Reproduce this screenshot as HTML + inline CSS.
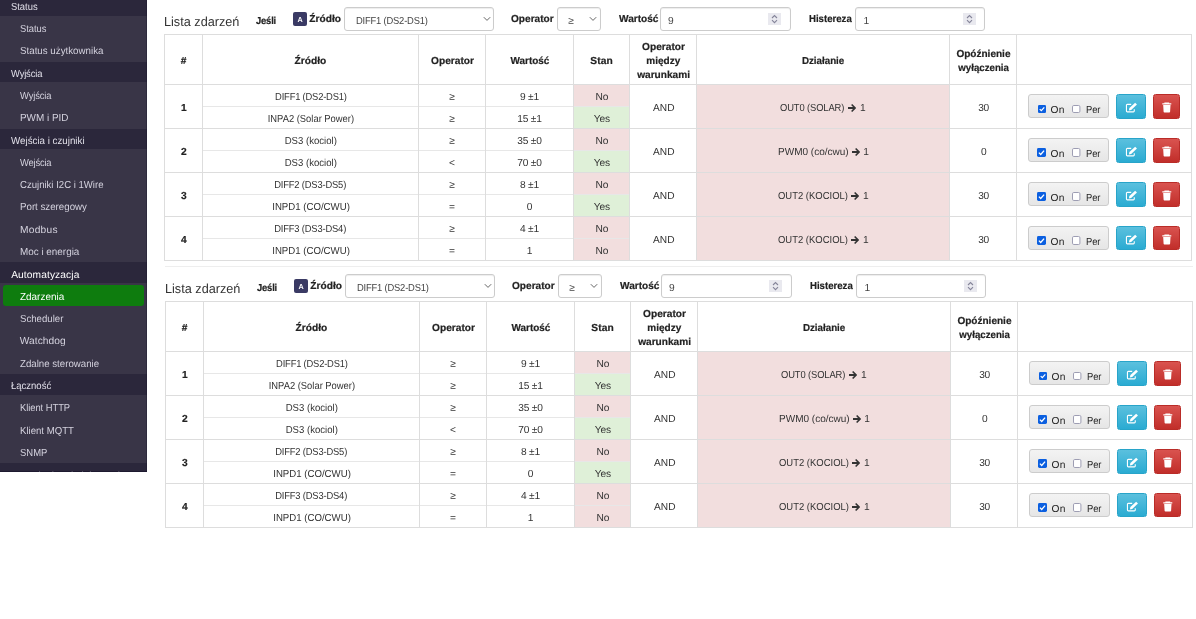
<!DOCTYPE html>
<html lang="pl"><head><meta charset="utf-8"><title>Zdarzenia</title>
<style>
html,body{margin:0;padding:0;background:#fff}
body{width:1196px;height:619px;position:relative;overflow:hidden;font-family:"Liberation Sans", sans-serif;text-rendering:geometricPrecision}
div,span,svg{position:absolute;display:block}
#sb{left:0;top:0;width:147px;height:472px;overflow:hidden}
span{line-height:14px;white-space:nowrap}
</style></head><body>
<div style="left:0px;top:0px;width:147px;height:472px;background:#393547"></div>
<div style="left:0px;top:0px;width:147px;height:16px;background:#2b273b"></div>
<div style="left:0px;top:62px;width:147px;height:20px;background:#2b273b"></div>
<div style="left:0px;top:129px;width:147px;height:20px;background:#2b273b"></div>
<div style="left:0px;top:262px;width:147px;height:21px;background:#2b273b"></div>
<div style="left:0px;top:374px;width:147px;height:21px;background:#2b273b"></div>
<div style="left:0px;top:463px;width:147px;height:9px;background:#2b273b"></div>
<div style="left:3px;top:285px;width:141px;height:21px;background:#0e7c0e;border-radius:3px"></div>
<div style="left:146px;top:0px;width:1px;height:472px;background:rgba(20,16,40,.3)"></div>
<div style="left:0px;top:471px;width:147px;height:1px;background:rgba(20,16,40,.6)"></div>
<div style="left:293px;top:12px;width:14px;height:14px;background:#3a3a64;border-radius:2px"></div>
<div style="left:344px;top:7px;width:150px;height:24px;box-sizing:border-box;background:#fff;border:1px solid #ccc;border-radius:3px;box-shadow:inset 0 1px 1px rgba(0,0,0,.075)"></div>
<svg style="left:482.6px;top:16px" width="8" height="6" viewBox="0 0 8 6"><path d="M0.8 1.2 L4 4.4 L7.2 1.2" fill="none" stroke="#666" stroke-width="1"/></svg>
<div style="left:557px;top:7px;width:44px;height:24px;box-sizing:border-box;background:#fff;border:1px solid #ccc;border-radius:3px;box-shadow:inset 0 1px 1px rgba(0,0,0,.075)"></div>
<svg style="left:589.2px;top:16px" width="8" height="6" viewBox="0 0 8 6"><path d="M0.8 1.2 L4 4.4 L7.2 1.2" fill="none" stroke="#666" stroke-width="1"/></svg>
<div style="left:660px;top:7px;width:131px;height:24px;box-sizing:border-box;background:#fff;border:1px solid #ccc;border-radius:3px;box-shadow:inset 0 1px 1px rgba(0,0,0,.075)"></div>
<svg style="left:768px;top:13px" width="13" height="12" viewBox="0 0 13 12"><rect width="13" height="12" fill="#e9e9ef"/><path d="M4 5 L6.5 2.5 L9 5 M4 7.2 L6.5 9.7 L9 7.2" fill="none" stroke="#85859a" stroke-width="1.1"/></svg>
<div style="left:855px;top:7px;width:130px;height:24px;box-sizing:border-box;background:#fff;border:1px solid #ccc;border-radius:3px;box-shadow:inset 0 1px 1px rgba(0,0,0,.075)"></div>
<svg style="left:963px;top:13px" width="13" height="12" viewBox="0 0 13 12"><rect width="13" height="12" fill="#e9e9ef"/><path d="M4 5 L6.5 2.5 L9 5 M4 7.2 L6.5 9.7 L9 7.2" fill="none" stroke="#85859a" stroke-width="1.1"/></svg>
<div style="left:573px;top:84px;width:56px;height:22px;background:#f2dede"></div>
<div style="left:573px;top:106px;width:56px;height:22px;background:#dff0d8"></div>
<div style="left:696px;top:84px;width:253px;height:44px;background:#f2dede"></div>
<div style="left:573px;top:128px;width:56px;height:22px;background:#f2dede"></div>
<div style="left:573px;top:150px;width:56px;height:22px;background:#dff0d8"></div>
<div style="left:696px;top:128px;width:253px;height:44px;background:#f2dede"></div>
<div style="left:573px;top:172px;width:56px;height:22px;background:#f2dede"></div>
<div style="left:573px;top:194px;width:56px;height:22px;background:#dff0d8"></div>
<div style="left:696px;top:172px;width:253px;height:44px;background:#f2dede"></div>
<div style="left:573px;top:216px;width:56px;height:22px;background:#f2dede"></div>
<div style="left:573px;top:238px;width:56px;height:22px;background:#f2dede"></div>
<div style="left:696px;top:216px;width:253px;height:44px;background:#f2dede"></div>
<div style="left:164px;top:34px;width:1028px;height:1px;background:#ddd"></div>
<div style="left:164px;top:84px;width:1028px;height:1px;background:#ddd"></div>
<div style="left:203px;top:106px;width:426px;height:1px;background:#e7e7e7"></div>
<div style="left:164px;top:128px;width:1028px;height:1px;background:#ddd"></div>
<div style="left:203px;top:150px;width:426px;height:1px;background:#e7e7e7"></div>
<div style="left:164px;top:172px;width:1028px;height:1px;background:#ddd"></div>
<div style="left:203px;top:194px;width:426px;height:1px;background:#e7e7e7"></div>
<div style="left:164px;top:216px;width:1028px;height:1px;background:#ddd"></div>
<div style="left:203px;top:238px;width:426px;height:1px;background:#e7e7e7"></div>
<div style="left:164px;top:260px;width:1028px;height:1px;background:#ddd"></div>
<div style="left:164px;top:34px;width:1px;height:227px;background:#ddd"></div>
<div style="left:202px;top:34px;width:1px;height:227px;background:#ddd"></div>
<div style="left:418px;top:34px;width:1px;height:227px;background:#ddd"></div>
<div style="left:485px;top:34px;width:1px;height:227px;background:#ddd"></div>
<div style="left:573px;top:34px;width:1px;height:227px;background:#ddd"></div>
<div style="left:629px;top:34px;width:1px;height:227px;background:#ddd"></div>
<div style="left:696px;top:34px;width:1px;height:227px;background:#ddd"></div>
<div style="left:949px;top:34px;width:1px;height:227px;background:#ddd"></div>
<div style="left:1016px;top:34px;width:1px;height:227px;background:#ddd"></div>
<div style="left:1191px;top:34px;width:1px;height:227px;background:#ddd"></div>
<svg style="left:848.0px;top:103.5px" width="8.4" height="8" viewBox="0 0 8.4 8"><path d="M0 3.1 H5 L3.1 1.1 L4.2 0 L8.4 4 L4.2 8 L3.1 6.9 L5 4.9 H0 Z" fill="#333"/></svg>
<div style="left:1028px;top:94px;width:81px;height:24px;box-sizing:border-box;border:1px solid #ccc;border-radius:3px;background:linear-gradient(#f3f3f3,#e6e6e6)"></div>
<svg style="left:1037.7px;top:105px" width="8" height="8" viewBox="0 0 8 8"><rect width="8" height="8" rx="1.3" fill="#0b5fe0"/><path d="M1.7 4.1 L3.3 5.7 L6.3 2.3" fill="none" stroke="#fff" stroke-width="1.2"/></svg>
<svg style="left:1072.2px;top:105px" width="8.4" height="8" viewBox="0 0 8.4 8"><rect x="0.5" y="0.5" width="7.4" height="7" rx="1.3" fill="#fff" stroke="#9d9db3" stroke-width="1"/></svg>
<div style="left:1116px;top:94px;width:30px;height:25px;box-sizing:border-box;border:1px solid #28a4c9;border-radius:2.5px;background:linear-gradient(#5bc0de,#2aabd2)"></div>
<svg style="left:1125px;top:100.1px" width="13" height="13" viewBox="0 0 13 13"><path d="M9.25 9.3 V11 a0.85 0.85 0 0 1 -0.85 0.85 H2.3 a0.85 0.85 0 0 1 -0.85 -0.85 V5.2 a0.85 0.85 0 0 1 0.85 -0.85 H6.2" fill="none" stroke="#fff" stroke-width="1.1"/><path d="M3.9 10.4 L4.4 8.1 L10.15 2.65 L11.95 4.45 L6.2 9.9 Z" fill="#fff"/></svg>
<div style="left:1153px;top:94px;width:27px;height:25px;box-sizing:border-box;border:1px solid #b92c28;border-radius:2.5px;background:linear-gradient(#d9534f,#c12e2a)"></div>
<svg style="left:1161.5px;top:100px" width="10" height="13" viewBox="0 0 10 13"><path d="M0.3 3.3 H9.3 V4.6 H0.3 Z M2.4 2.5 H7.2 V3.4 H2.4 Z M1.2 5.1 H8.5 L8.1 11.7 a0.8 0.8 0 0 1 -0.8 0.7 H2.4 a0.8 0.8 0 0 1 -0.8 -0.7 Z" fill="#fff"/></svg>
<svg style="left:851.9px;top:147.5px" width="8.4" height="8" viewBox="0 0 8.4 8"><path d="M0 3.1 H5 L3.1 1.1 L4.2 0 L8.4 4 L4.2 8 L3.1 6.9 L5 4.9 H0 Z" fill="#333"/></svg>
<div style="left:1028px;top:138px;width:81px;height:24px;box-sizing:border-box;border:1px solid #ccc;border-radius:3px;background:linear-gradient(#f3f3f3,#e6e6e6)"></div>
<svg style="left:1037px;top:148px" width="9" height="9" viewBox="0 0 8 8"><rect width="8" height="8" rx="1.3" fill="#0b5fe0"/><path d="M1.7 4.1 L3.3 5.7 L6.3 2.3" fill="none" stroke="#fff" stroke-width="1.2"/></svg>
<svg style="left:1072.2px;top:148px" width="8.4" height="9" viewBox="0 0 8.4 9"><rect x="0.5" y="0.5" width="7.4" height="8" rx="1.3" fill="#fff" stroke="#9d9db3" stroke-width="1"/></svg>
<div style="left:1116px;top:138px;width:30px;height:25px;box-sizing:border-box;border:1px solid #28a4c9;border-radius:2.5px;background:linear-gradient(#5bc0de,#2aabd2)"></div>
<svg style="left:1125px;top:144.1px" width="13" height="13" viewBox="0 0 13 13"><path d="M9.25 9.3 V11 a0.85 0.85 0 0 1 -0.85 0.85 H2.3 a0.85 0.85 0 0 1 -0.85 -0.85 V5.2 a0.85 0.85 0 0 1 0.85 -0.85 H6.2" fill="none" stroke="#fff" stroke-width="1.1"/><path d="M3.9 10.4 L4.4 8.1 L10.15 2.65 L11.95 4.45 L6.2 9.9 Z" fill="#fff"/></svg>
<div style="left:1153px;top:138px;width:27px;height:25px;box-sizing:border-box;border:1px solid #b92c28;border-radius:2.5px;background:linear-gradient(#d9534f,#c12e2a)"></div>
<svg style="left:1161.5px;top:144px" width="10" height="13" viewBox="0 0 10 13"><path d="M0.3 3.3 H9.3 V4.6 H0.3 Z M2.4 2.5 H7.2 V3.4 H2.4 Z M1.2 5.1 H8.5 L8.1 11.7 a0.8 0.8 0 0 1 -0.8 0.7 H2.4 a0.8 0.8 0 0 1 -0.8 -0.7 Z" fill="#fff"/></svg>
<svg style="left:851.1px;top:191.5px" width="8.4" height="8" viewBox="0 0 8.4 8"><path d="M0 3.1 H5 L3.1 1.1 L4.2 0 L8.4 4 L4.2 8 L3.1 6.9 L5 4.9 H0 Z" fill="#333"/></svg>
<div style="left:1028px;top:182px;width:81px;height:24px;box-sizing:border-box;border:1px solid #ccc;border-radius:3px;background:linear-gradient(#f3f3f3,#e6e6e6)"></div>
<svg style="left:1037px;top:192px" width="9" height="9" viewBox="0 0 8 8"><rect width="8" height="8" rx="1.3" fill="#0b5fe0"/><path d="M1.7 4.1 L3.3 5.7 L6.3 2.3" fill="none" stroke="#fff" stroke-width="1.2"/></svg>
<svg style="left:1072.2px;top:192px" width="8.4" height="9" viewBox="0 0 8.4 9"><rect x="0.5" y="0.5" width="7.4" height="8" rx="1.3" fill="#fff" stroke="#9d9db3" stroke-width="1"/></svg>
<div style="left:1116px;top:182px;width:30px;height:25px;box-sizing:border-box;border:1px solid #28a4c9;border-radius:2.5px;background:linear-gradient(#5bc0de,#2aabd2)"></div>
<svg style="left:1125px;top:188.1px" width="13" height="13" viewBox="0 0 13 13"><path d="M9.25 9.3 V11 a0.85 0.85 0 0 1 -0.85 0.85 H2.3 a0.85 0.85 0 0 1 -0.85 -0.85 V5.2 a0.85 0.85 0 0 1 0.85 -0.85 H6.2" fill="none" stroke="#fff" stroke-width="1.1"/><path d="M3.9 10.4 L4.4 8.1 L10.15 2.65 L11.95 4.45 L6.2 9.9 Z" fill="#fff"/></svg>
<div style="left:1153px;top:182px;width:27px;height:25px;box-sizing:border-box;border:1px solid #b92c28;border-radius:2.5px;background:linear-gradient(#d9534f,#c12e2a)"></div>
<svg style="left:1161.5px;top:188px" width="10" height="13" viewBox="0 0 10 13"><path d="M0.3 3.3 H9.3 V4.6 H0.3 Z M2.4 2.5 H7.2 V3.4 H2.4 Z M1.2 5.1 H8.5 L8.1 11.7 a0.8 0.8 0 0 1 -0.8 0.7 H2.4 a0.8 0.8 0 0 1 -0.8 -0.7 Z" fill="#fff"/></svg>
<svg style="left:851.1px;top:235.5px" width="8.4" height="8" viewBox="0 0 8.4 8"><path d="M0 3.1 H5 L3.1 1.1 L4.2 0 L8.4 4 L4.2 8 L3.1 6.9 L5 4.9 H0 Z" fill="#333"/></svg>
<div style="left:1028px;top:226px;width:81px;height:24px;box-sizing:border-box;border:1px solid #ccc;border-radius:3px;background:linear-gradient(#f3f3f3,#e6e6e6)"></div>
<svg style="left:1037px;top:236px" width="9" height="9" viewBox="0 0 8 8"><rect width="8" height="8" rx="1.3" fill="#0b5fe0"/><path d="M1.7 4.1 L3.3 5.7 L6.3 2.3" fill="none" stroke="#fff" stroke-width="1.2"/></svg>
<svg style="left:1072.2px;top:236px" width="8.4" height="9" viewBox="0 0 8.4 9"><rect x="0.5" y="0.5" width="7.4" height="8" rx="1.3" fill="#fff" stroke="#9d9db3" stroke-width="1"/></svg>
<div style="left:1116px;top:226px;width:30px;height:24px;box-sizing:border-box;border:1px solid #28a4c9;border-radius:2.5px;background:linear-gradient(#5bc0de,#2aabd2)"></div>
<svg style="left:1125px;top:232.1px" width="13" height="13" viewBox="0 0 13 13"><path d="M9.25 9.3 V11 a0.85 0.85 0 0 1 -0.85 0.85 H2.3 a0.85 0.85 0 0 1 -0.85 -0.85 V5.2 a0.85 0.85 0 0 1 0.85 -0.85 H6.2" fill="none" stroke="#fff" stroke-width="1.1"/><path d="M3.9 10.4 L4.4 8.1 L10.15 2.65 L11.95 4.45 L6.2 9.9 Z" fill="#fff"/></svg>
<div style="left:1153px;top:226px;width:27px;height:24px;box-sizing:border-box;border:1px solid #b92c28;border-radius:2.5px;background:linear-gradient(#d9534f,#c12e2a)"></div>
<svg style="left:1161.5px;top:232px" width="10" height="13" viewBox="0 0 10 13"><path d="M0.3 3.3 H9.3 V4.6 H0.3 Z M2.4 2.5 H7.2 V3.4 H2.4 Z M1.2 5.1 H8.5 L8.1 11.7 a0.8 0.8 0 0 1 -0.8 0.7 H2.4 a0.8 0.8 0 0 1 -0.8 -0.7 Z" fill="#fff"/></svg>
<div style="left:165px;top:266px;width:1028px;height:1px;background:#eee"></div>
<div style="left:294px;top:279px;width:14px;height:14px;background:#3a3a64;border-radius:2px"></div>
<div style="left:345px;top:274px;width:150px;height:24px;box-sizing:border-box;background:#fff;border:1px solid #ccc;border-radius:3px;box-shadow:inset 0 1px 1px rgba(0,0,0,.075)"></div>
<svg style="left:483.6px;top:283px" width="8" height="6" viewBox="0 0 8 6"><path d="M0.8 1.2 L4 4.4 L7.2 1.2" fill="none" stroke="#666" stroke-width="1"/></svg>
<div style="left:558px;top:274px;width:44px;height:24px;box-sizing:border-box;background:#fff;border:1px solid #ccc;border-radius:3px;box-shadow:inset 0 1px 1px rgba(0,0,0,.075)"></div>
<svg style="left:590.2px;top:283px" width="8" height="6" viewBox="0 0 8 6"><path d="M0.8 1.2 L4 4.4 L7.2 1.2" fill="none" stroke="#666" stroke-width="1"/></svg>
<div style="left:661px;top:274px;width:131px;height:24px;box-sizing:border-box;background:#fff;border:1px solid #ccc;border-radius:3px;box-shadow:inset 0 1px 1px rgba(0,0,0,.075)"></div>
<svg style="left:769px;top:280px" width="13" height="12" viewBox="0 0 13 12"><rect width="13" height="12" fill="#e9e9ef"/><path d="M4 5 L6.5 2.5 L9 5 M4 7.2 L6.5 9.7 L9 7.2" fill="none" stroke="#85859a" stroke-width="1.1"/></svg>
<div style="left:856px;top:274px;width:130px;height:24px;box-sizing:border-box;background:#fff;border:1px solid #ccc;border-radius:3px;box-shadow:inset 0 1px 1px rgba(0,0,0,.075)"></div>
<svg style="left:964px;top:280px" width="13" height="12" viewBox="0 0 13 12"><rect width="13" height="12" fill="#e9e9ef"/><path d="M4 5 L6.5 2.5 L9 5 M4 7.2 L6.5 9.7 L9 7.2" fill="none" stroke="#85859a" stroke-width="1.1"/></svg>
<div style="left:574px;top:351px;width:56px;height:22px;background:#f2dede"></div>
<div style="left:574px;top:373px;width:56px;height:22px;background:#dff0d8"></div>
<div style="left:697px;top:351px;width:253px;height:44px;background:#f2dede"></div>
<div style="left:574px;top:395px;width:56px;height:22px;background:#f2dede"></div>
<div style="left:574px;top:417px;width:56px;height:22px;background:#dff0d8"></div>
<div style="left:697px;top:395px;width:253px;height:44px;background:#f2dede"></div>
<div style="left:574px;top:439px;width:56px;height:22px;background:#f2dede"></div>
<div style="left:574px;top:461px;width:56px;height:22px;background:#dff0d8"></div>
<div style="left:697px;top:439px;width:253px;height:44px;background:#f2dede"></div>
<div style="left:574px;top:483px;width:56px;height:22px;background:#f2dede"></div>
<div style="left:574px;top:505px;width:56px;height:22px;background:#f2dede"></div>
<div style="left:697px;top:483px;width:253px;height:44px;background:#f2dede"></div>
<div style="left:165px;top:301px;width:1028px;height:1px;background:#ddd"></div>
<div style="left:165px;top:351px;width:1028px;height:1px;background:#ddd"></div>
<div style="left:204px;top:373px;width:426px;height:1px;background:#e7e7e7"></div>
<div style="left:165px;top:395px;width:1028px;height:1px;background:#ddd"></div>
<div style="left:204px;top:417px;width:426px;height:1px;background:#e7e7e7"></div>
<div style="left:165px;top:439px;width:1028px;height:1px;background:#ddd"></div>
<div style="left:204px;top:461px;width:426px;height:1px;background:#e7e7e7"></div>
<div style="left:165px;top:483px;width:1028px;height:1px;background:#ddd"></div>
<div style="left:204px;top:505px;width:426px;height:1px;background:#e7e7e7"></div>
<div style="left:165px;top:527px;width:1028px;height:1px;background:#ddd"></div>
<div style="left:165px;top:301px;width:1px;height:227px;background:#ddd"></div>
<div style="left:203px;top:301px;width:1px;height:227px;background:#ddd"></div>
<div style="left:419px;top:301px;width:1px;height:227px;background:#ddd"></div>
<div style="left:486px;top:301px;width:1px;height:227px;background:#ddd"></div>
<div style="left:574px;top:301px;width:1px;height:227px;background:#ddd"></div>
<div style="left:630px;top:301px;width:1px;height:227px;background:#ddd"></div>
<div style="left:697px;top:301px;width:1px;height:227px;background:#ddd"></div>
<div style="left:950px;top:301px;width:1px;height:227px;background:#ddd"></div>
<div style="left:1017px;top:301px;width:1px;height:227px;background:#ddd"></div>
<div style="left:1192px;top:301px;width:1px;height:227px;background:#ddd"></div>
<svg style="left:849.0px;top:370.5px" width="8.4" height="8" viewBox="0 0 8.4 8"><path d="M0 3.1 H5 L3.1 1.1 L4.2 0 L8.4 4 L4.2 8 L3.1 6.9 L5 4.9 H0 Z" fill="#333"/></svg>
<div style="left:1029px;top:361px;width:81px;height:24px;box-sizing:border-box;border:1px solid #ccc;border-radius:3px;background:linear-gradient(#f3f3f3,#e6e6e6)"></div>
<svg style="left:1038.7px;top:372px" width="8" height="8" viewBox="0 0 8 8"><rect width="8" height="8" rx="1.3" fill="#0b5fe0"/><path d="M1.7 4.1 L3.3 5.7 L6.3 2.3" fill="none" stroke="#fff" stroke-width="1.2"/></svg>
<svg style="left:1073.2px;top:372px" width="8.4" height="8" viewBox="0 0 8.4 8"><rect x="0.5" y="0.5" width="7.4" height="7" rx="1.3" fill="#fff" stroke="#9d9db3" stroke-width="1"/></svg>
<div style="left:1117px;top:361px;width:30px;height:25px;box-sizing:border-box;border:1px solid #28a4c9;border-radius:2.5px;background:linear-gradient(#5bc0de,#2aabd2)"></div>
<svg style="left:1126px;top:367.1px" width="13" height="13" viewBox="0 0 13 13"><path d="M9.25 9.3 V11 a0.85 0.85 0 0 1 -0.85 0.85 H2.3 a0.85 0.85 0 0 1 -0.85 -0.85 V5.2 a0.85 0.85 0 0 1 0.85 -0.85 H6.2" fill="none" stroke="#fff" stroke-width="1.1"/><path d="M3.9 10.4 L4.4 8.1 L10.15 2.65 L11.95 4.45 L6.2 9.9 Z" fill="#fff"/></svg>
<div style="left:1154px;top:361px;width:27px;height:25px;box-sizing:border-box;border:1px solid #b92c28;border-radius:2.5px;background:linear-gradient(#d9534f,#c12e2a)"></div>
<svg style="left:1162.5px;top:367px" width="10" height="13" viewBox="0 0 10 13"><path d="M0.3 3.3 H9.3 V4.6 H0.3 Z M2.4 2.5 H7.2 V3.4 H2.4 Z M1.2 5.1 H8.5 L8.1 11.7 a0.8 0.8 0 0 1 -0.8 0.7 H2.4 a0.8 0.8 0 0 1 -0.8 -0.7 Z" fill="#fff"/></svg>
<svg style="left:852.9px;top:414.5px" width="8.4" height="8" viewBox="0 0 8.4 8"><path d="M0 3.1 H5 L3.1 1.1 L4.2 0 L8.4 4 L4.2 8 L3.1 6.9 L5 4.9 H0 Z" fill="#333"/></svg>
<div style="left:1029px;top:405px;width:81px;height:24px;box-sizing:border-box;border:1px solid #ccc;border-radius:3px;background:linear-gradient(#f3f3f3,#e6e6e6)"></div>
<svg style="left:1038px;top:415px" width="9" height="9" viewBox="0 0 8 8"><rect width="8" height="8" rx="1.3" fill="#0b5fe0"/><path d="M1.7 4.1 L3.3 5.7 L6.3 2.3" fill="none" stroke="#fff" stroke-width="1.2"/></svg>
<svg style="left:1073.2px;top:415px" width="8.4" height="9" viewBox="0 0 8.4 9"><rect x="0.5" y="0.5" width="7.4" height="8" rx="1.3" fill="#fff" stroke="#9d9db3" stroke-width="1"/></svg>
<div style="left:1117px;top:405px;width:30px;height:25px;box-sizing:border-box;border:1px solid #28a4c9;border-radius:2.5px;background:linear-gradient(#5bc0de,#2aabd2)"></div>
<svg style="left:1126px;top:411.1px" width="13" height="13" viewBox="0 0 13 13"><path d="M9.25 9.3 V11 a0.85 0.85 0 0 1 -0.85 0.85 H2.3 a0.85 0.85 0 0 1 -0.85 -0.85 V5.2 a0.85 0.85 0 0 1 0.85 -0.85 H6.2" fill="none" stroke="#fff" stroke-width="1.1"/><path d="M3.9 10.4 L4.4 8.1 L10.15 2.65 L11.95 4.45 L6.2 9.9 Z" fill="#fff"/></svg>
<div style="left:1154px;top:405px;width:27px;height:25px;box-sizing:border-box;border:1px solid #b92c28;border-radius:2.5px;background:linear-gradient(#d9534f,#c12e2a)"></div>
<svg style="left:1162.5px;top:411px" width="10" height="13" viewBox="0 0 10 13"><path d="M0.3 3.3 H9.3 V4.6 H0.3 Z M2.4 2.5 H7.2 V3.4 H2.4 Z M1.2 5.1 H8.5 L8.1 11.7 a0.8 0.8 0 0 1 -0.8 0.7 H2.4 a0.8 0.8 0 0 1 -0.8 -0.7 Z" fill="#fff"/></svg>
<svg style="left:852.1px;top:458.5px" width="8.4" height="8" viewBox="0 0 8.4 8"><path d="M0 3.1 H5 L3.1 1.1 L4.2 0 L8.4 4 L4.2 8 L3.1 6.9 L5 4.9 H0 Z" fill="#333"/></svg>
<div style="left:1029px;top:449px;width:81px;height:24px;box-sizing:border-box;border:1px solid #ccc;border-radius:3px;background:linear-gradient(#f3f3f3,#e6e6e6)"></div>
<svg style="left:1038px;top:459px" width="9" height="9" viewBox="0 0 8 8"><rect width="8" height="8" rx="1.3" fill="#0b5fe0"/><path d="M1.7 4.1 L3.3 5.7 L6.3 2.3" fill="none" stroke="#fff" stroke-width="1.2"/></svg>
<svg style="left:1073.2px;top:459px" width="8.4" height="9" viewBox="0 0 8.4 9"><rect x="0.5" y="0.5" width="7.4" height="8" rx="1.3" fill="#fff" stroke="#9d9db3" stroke-width="1"/></svg>
<div style="left:1117px;top:449px;width:30px;height:25px;box-sizing:border-box;border:1px solid #28a4c9;border-radius:2.5px;background:linear-gradient(#5bc0de,#2aabd2)"></div>
<svg style="left:1126px;top:455.1px" width="13" height="13" viewBox="0 0 13 13"><path d="M9.25 9.3 V11 a0.85 0.85 0 0 1 -0.85 0.85 H2.3 a0.85 0.85 0 0 1 -0.85 -0.85 V5.2 a0.85 0.85 0 0 1 0.85 -0.85 H6.2" fill="none" stroke="#fff" stroke-width="1.1"/><path d="M3.9 10.4 L4.4 8.1 L10.15 2.65 L11.95 4.45 L6.2 9.9 Z" fill="#fff"/></svg>
<div style="left:1154px;top:449px;width:27px;height:25px;box-sizing:border-box;border:1px solid #b92c28;border-radius:2.5px;background:linear-gradient(#d9534f,#c12e2a)"></div>
<svg style="left:1162.5px;top:455px" width="10" height="13" viewBox="0 0 10 13"><path d="M0.3 3.3 H9.3 V4.6 H0.3 Z M2.4 2.5 H7.2 V3.4 H2.4 Z M1.2 5.1 H8.5 L8.1 11.7 a0.8 0.8 0 0 1 -0.8 0.7 H2.4 a0.8 0.8 0 0 1 -0.8 -0.7 Z" fill="#fff"/></svg>
<svg style="left:852.1px;top:502.5px" width="8.4" height="8" viewBox="0 0 8.4 8"><path d="M0 3.1 H5 L3.1 1.1 L4.2 0 L8.4 4 L4.2 8 L3.1 6.9 L5 4.9 H0 Z" fill="#333"/></svg>
<div style="left:1029px;top:493px;width:81px;height:24px;box-sizing:border-box;border:1px solid #ccc;border-radius:3px;background:linear-gradient(#f3f3f3,#e6e6e6)"></div>
<svg style="left:1038px;top:503px" width="9" height="9" viewBox="0 0 8 8"><rect width="8" height="8" rx="1.3" fill="#0b5fe0"/><path d="M1.7 4.1 L3.3 5.7 L6.3 2.3" fill="none" stroke="#fff" stroke-width="1.2"/></svg>
<svg style="left:1073.2px;top:503px" width="8.4" height="9" viewBox="0 0 8.4 9"><rect x="0.5" y="0.5" width="7.4" height="8" rx="1.3" fill="#fff" stroke="#9d9db3" stroke-width="1"/></svg>
<div style="left:1117px;top:493px;width:30px;height:24px;box-sizing:border-box;border:1px solid #28a4c9;border-radius:2.5px;background:linear-gradient(#5bc0de,#2aabd2)"></div>
<svg style="left:1126px;top:499.1px" width="13" height="13" viewBox="0 0 13 13"><path d="M9.25 9.3 V11 a0.85 0.85 0 0 1 -0.85 0.85 H2.3 a0.85 0.85 0 0 1 -0.85 -0.85 V5.2 a0.85 0.85 0 0 1 0.85 -0.85 H6.2" fill="none" stroke="#fff" stroke-width="1.1"/><path d="M3.9 10.4 L4.4 8.1 L10.15 2.65 L11.95 4.45 L6.2 9.9 Z" fill="#fff"/></svg>
<div style="left:1154px;top:493px;width:27px;height:24px;box-sizing:border-box;border:1px solid #b92c28;border-radius:2.5px;background:linear-gradient(#d9534f,#c12e2a)"></div>
<svg style="left:1162.5px;top:499px" width="10" height="13" viewBox="0 0 10 13"><path d="M0.3 3.3 H9.3 V4.6 H0.3 Z M2.4 2.5 H7.2 V3.4 H2.4 Z M1.2 5.1 H8.5 L8.1 11.7 a0.8 0.8 0 0 1 -0.8 0.7 H2.4 a0.8 0.8 0 0 1 -0.8 -0.7 Z" fill="#fff"/></svg>
<div id="sb">
<span style="font-size:10.2px;color:#e2e0ea;left:11.0px;top:1px;transform:scaleX(0.920);transform-origin:0 0;">Status</span>
<span style="font-size:10.2px;color:#d4d2de;letter-spacing:-0.03px;left:20.1px;top:23px;transform:scaleX(0.920);transform-origin:0 0;">Status</span>
<span style="font-size:10.2px;color:#d4d2de;left:20.1px;top:45px;transform:scaleX(0.957);transform-origin:0 0;">Status użytkownika</span>
<span style="font-size:10.2px;color:#e2e0ea;letter-spacing:-0.15px;left:11.2px;top:68px;transform:scaleX(0.920);transform-origin:0 0;">Wyjścia</span>
<span style="font-size:10.2px;color:#d4d2de;letter-spacing:-0.13px;left:20.2px;top:90px;transform:scaleX(0.920);transform-origin:0 0;">Wyjścia</span>
<span style="font-size:10.2px;color:#d4d2de;left:20.1px;top:112px;transform:scaleX(0.974);transform-origin:0 0;">PWM i PID</span>
<span style="font-size:10.2px;color:#e2e0ea;left:11.2px;top:135px;transform:scaleX(0.958);transform-origin:0 0;">Wejścia i czujniki</span>
<span style="font-size:10.2px;color:#d4d2de;letter-spacing:-0.20px;left:20.2px;top:157px;transform:scaleX(0.920);transform-origin:0 0;">Wejścia</span>
<span style="font-size:10.2px;color:#d4d2de;left:19.7px;top:179px;transform:scaleX(0.939);transform-origin:0 0;">Czujniki I2C i 1Wire</span>
<span style="font-size:10.2px;color:#d4d2de;left:20.1px;top:201px;transform:scaleX(0.953);transform-origin:0 0;">Port szeregowy</span>
<span style="font-size:10.2px;color:#d4d2de;letter-spacing:0.23px;left:20.1px;top:224px;">Modbus</span>
<span style="font-size:10.2px;color:#d4d2de;left:20.1px;top:246px;transform:scaleX(0.970);transform-origin:0 0;">Moc i energia</span>
<span style="font-size:10.2px;color:#ffffff;letter-spacing:0.11px;left:11.2px;top:269px;">Automatyzacja</span>
<span style="font-size:10.2px;color:#ffffff;left:20.2px;top:291px;transform:scaleX(0.975);transform-origin:0 0;">Zdarzenia</span>
<span style="font-size:10.2px;color:#d4d2de;left:20.0px;top:313px;transform:scaleX(0.945);transform-origin:0 0;">Scheduler</span>
<span style="font-size:10.2px;color:#d4d2de;letter-spacing:0.06px;left:19.8px;top:335px;">Watchdog</span>
<span style="font-size:10.2px;color:#d4d2de;left:20.2px;top:358px;transform:scaleX(0.950);transform-origin:0 0;">Zdalne sterowanie</span>
<span style="font-size:10.2px;color:#e2e0ea;left:11.2px;top:380px;transform:scaleX(0.933);transform-origin:0 0;">Łączność</span>
<span style="font-size:10.2px;color:#d4d2de;letter-spacing:-0.05px;left:20.1px;top:402px;transform:scaleX(0.920);transform-origin:0 0;">Klient HTTP</span>
<span style="font-size:10.2px;color:#d4d2de;left:20.1px;top:425px;transform:scaleX(0.943);transform-origin:0 0;">Klient MQTT</span>
<span style="font-size:10.2px;color:#d4d2de;left:20.1px;top:447px;transform:scaleX(0.928);transform-origin:0 0;">SNMP</span>
<span style="font-size:10.2px;color:#e2e0ea;left:11.4px;top:470px;transform:scaleX(0.972);transform-origin:0 0;">Ustawienia administracyjne</span>
</div>
<span style="font-size:13px;color:#333;left:164.0px;top:15px;transform:scaleX(0.975);transform-origin:0 0;">Lista zdarzeń</span>
<span style="font-size:10.2px;font-weight:700;color:#222;letter-spacing:-0.17px;-webkit-text-stroke:0.2px;left:256.2px;top:15px;transform:scaleX(0.920);transform-origin:0 0;">Jeśli</span>
<span style="font-size:7.2px;font-weight:700;color:#fff;left:297.4px;top:13px;">A</span>
<span style="font-size:10.2px;font-weight:700;color:#222;letter-spacing:0.03px;-webkit-text-stroke:0.2px;left:309.2px;top:13px;">Źródło</span>
<span style="font-size:10.2px;color:#444;letter-spacing:-0.20px;left:356.1px;top:15px;transform:scaleX(0.920);transform-origin:0 0;">DIFF1 (DS2-DS1)</span>
<span style="font-size:10.2px;font-weight:700;color:#222;-webkit-text-stroke:0.2px;left:511.2px;top:13px;transform:scaleX(0.991);transform-origin:0 0;">Operator</span>
<span style="font-size:10.2px;color:#444;left:568.2px;top:15px;">≥</span>
<span style="font-size:10.2px;font-weight:700;color:#222;-webkit-text-stroke:0.2px;left:619.4px;top:13px;transform:scaleX(0.991);transform-origin:0 0;">Wartość</span>
<span style="font-size:10.2px;color:#444;left:668.0px;top:15px;">9</span>
<span style="font-size:10.2px;font-weight:700;color:#222;-webkit-text-stroke:0.2px;left:809.3px;top:13px;transform:scaleX(0.944);transform-origin:0 0;">Histereza</span>
<span style="font-size:10.2px;color:#444;left:863.4px;top:15px;">1</span>
<span style="font-size:10.2px;font-weight:700;color:#222;-webkit-text-stroke:0.2px;left:180.7px;top:55px;">#</span>
<span style="font-size:10.2px;font-weight:700;color:#222;letter-spacing:0.01px;-webkit-text-stroke:0.2px;left:294.6px;top:55px;">Źródło</span>
<span style="font-size:10.2px;font-weight:700;color:#222;-webkit-text-stroke:0.2px;left:430.5px;top:55px;transform:scaleX(0.996);">Operator</span>
<span style="font-size:10.2px;font-weight:700;color:#222;-webkit-text-stroke:0.2px;left:509.6px;top:55px;transform:scaleX(0.978);">Wartość</span>
<span style="font-size:10.2px;font-weight:700;color:#222;letter-spacing:0.15px;-webkit-text-stroke:0.2px;left:590.2px;top:55px;">Stan</span>
<span style="font-size:10.2px;font-weight:700;color:#222;-webkit-text-stroke:0.2px;left:641.5px;top:41px;transform:scaleX(0.996);">Operator</span>
<span style="font-size:10.2px;font-weight:700;color:#222;-webkit-text-stroke:0.2px;left:645.7px;top:55px;transform:scaleX(0.980);">między</span>
<span style="font-size:10.2px;font-weight:700;color:#222;-webkit-text-stroke:0.2px;left:637.2px;top:69px;transform:scaleX(0.993);">warunkami</span>
<span style="font-size:10.2px;font-weight:700;color:#222;-webkit-text-stroke:0.2px;left:800.9px;top:55px;transform:scaleX(0.959);">Działanie</span>
<span style="font-size:10.2px;font-weight:700;color:#222;-webkit-text-stroke:0.2px;left:956.0px;top:48px;transform:scaleX(0.985);">Opóźnienie</span>
<span style="font-size:10.2px;font-weight:700;color:#222;-webkit-text-stroke:0.2px;left:956.7px;top:62px;transform:scaleX(0.950);">wyłączenia</span>
<span style="font-size:10.2px;font-weight:700;color:#222;-webkit-text-stroke:0.2px;left:181.1px;top:102px;">1</span>
<span style="font-size:10.2px;color:#333;letter-spacing:-0.21px;left:271.6px;top:91px;transform:scaleX(0.920);">DIFF1 (DS2-DS1)</span>
<span style="font-size:10.2px;color:#333;left:449.2px;top:91px;">≥</span>
<span style="font-size:10.2px;color:#333;letter-spacing:-0.20px;left:520.0px;top:91px;">9 ±1</span>
<span style="font-size:10.2px;color:#333;letter-spacing:-0.10px;left:595.6px;top:91px;">No</span>
<span style="font-size:10.2px;color:#333;left:263.6px;top:113px;transform:scaleX(0.920);">INPA2 (Solar Power)</span>
<span style="font-size:10.2px;color:#333;left:449.2px;top:113px;">≥</span>
<span style="font-size:10.2px;color:#333;letter-spacing:-0.20px;left:517.3px;top:113px;">15 ±1</span>
<span style="font-size:10.2px;color:#333;letter-spacing:-0.10px;left:593.8px;top:113px;">Yes</span>
<span style="font-size:10.2px;color:#333;left:653.0px;top:102px;transform:scaleX(0.997);">AND</span>
<span style="font-size:10.2px;color:#333;letter-spacing:-0.13px;left:780.3px;top:102px;transform:scaleX(0.920);transform-origin:0 0;">OUT0 (SOLAR)</span>
<span style="font-size:10.2px;color:#333;left:860.0px;top:102px;">1</span>
<span style="font-size:10.2px;color:#333;letter-spacing:-0.50px;left:978.3px;top:102px;">30</span>
<span style="font-size:10.2px;color:#222;letter-spacing:0.33px;left:1050.4px;top:104px;">On</span>
<span style="font-size:10.2px;color:#222;letter-spacing:-0.08px;left:1086.2px;top:104px;transform:scaleX(0.920);transform-origin:0 0;">Per</span>
<span style="font-size:10.2px;font-weight:700;color:#222;-webkit-text-stroke:0.2px;left:181.1px;top:146px;">2</span>
<span style="font-size:10.2px;color:#333;left:282.8px;top:135px;transform:scaleX(0.940);">DS3 (kociol)</span>
<span style="font-size:10.2px;color:#333;left:449.2px;top:135px;">≥</span>
<span style="font-size:10.2px;color:#333;letter-spacing:-0.20px;left:517.3px;top:135px;">35 ±0</span>
<span style="font-size:10.2px;color:#333;letter-spacing:-0.10px;left:595.6px;top:135px;">No</span>
<span style="font-size:10.2px;color:#333;left:282.8px;top:157px;transform:scaleX(0.940);">DS3 (kociol)</span>
<span style="font-size:10.2px;color:#333;left:449.0px;top:157px;">&lt;</span>
<span style="font-size:10.2px;color:#333;letter-spacing:-0.20px;left:517.3px;top:157px;">70 ±0</span>
<span style="font-size:10.2px;color:#333;letter-spacing:-0.10px;left:593.8px;top:157px;">Yes</span>
<span style="font-size:10.2px;color:#333;left:653.0px;top:146px;transform:scaleX(0.997);">AND</span>
<span style="font-size:10.2px;color:#333;left:778.0px;top:146px;transform:scaleX(0.983);transform-origin:0 0;">PWM0 (co/cwu)</span>
<span style="font-size:10.2px;color:#333;left:863.3px;top:146px;">1</span>
<span style="font-size:10.2px;color:#333;letter-spacing:-0.50px;left:980.9px;top:146px;">0</span>
<span style="font-size:10.2px;color:#222;letter-spacing:0.33px;left:1050.4px;top:148px;">On</span>
<span style="font-size:10.2px;color:#222;letter-spacing:-0.08px;left:1086.2px;top:148px;transform:scaleX(0.920);transform-origin:0 0;">Per</span>
<span style="font-size:10.2px;font-weight:700;color:#222;-webkit-text-stroke:0.2px;left:181.1px;top:190px;">3</span>
<span style="font-size:10.2px;color:#333;letter-spacing:-0.18px;left:271.4px;top:179px;transform:scaleX(0.920);">DIFF2 (DS3-DS5)</span>
<span style="font-size:10.2px;color:#333;left:449.2px;top:179px;">≥</span>
<span style="font-size:10.2px;color:#333;letter-spacing:-0.20px;left:520.0px;top:179px;">8 ±1</span>
<span style="font-size:10.2px;color:#333;letter-spacing:-0.10px;left:595.6px;top:179px;">No</span>
<span style="font-size:10.2px;color:#333;left:269.5px;top:201px;transform:scaleX(0.946);">INPD1 (CO/CWU)</span>
<span style="font-size:10.2px;color:#333;left:449.0px;top:201px;">=</span>
<span style="font-size:10.2px;color:#333;letter-spacing:-0.20px;left:526.8px;top:201px;">0</span>
<span style="font-size:10.2px;color:#333;letter-spacing:-0.10px;left:593.8px;top:201px;">Yes</span>
<span style="font-size:10.2px;color:#333;left:653.0px;top:190px;transform:scaleX(0.997);">AND</span>
<span style="font-size:10.2px;color:#333;left:777.5px;top:190px;transform:scaleX(0.929);transform-origin:0 0;">OUT2 (KOCIOL)</span>
<span style="font-size:10.2px;color:#333;left:863.0px;top:190px;">1</span>
<span style="font-size:10.2px;color:#333;letter-spacing:-0.50px;left:978.3px;top:190px;">30</span>
<span style="font-size:10.2px;color:#222;letter-spacing:0.33px;left:1050.4px;top:192px;">On</span>
<span style="font-size:10.2px;color:#222;letter-spacing:-0.08px;left:1086.2px;top:192px;transform:scaleX(0.920);transform-origin:0 0;">Per</span>
<span style="font-size:10.2px;font-weight:700;color:#222;-webkit-text-stroke:0.2px;left:181.1px;top:234px;">4</span>
<span style="font-size:10.2px;color:#333;letter-spacing:-0.18px;left:271.4px;top:223px;transform:scaleX(0.920);">DIFF3 (DS3-DS4)</span>
<span style="font-size:10.2px;color:#333;left:449.2px;top:223px;">≥</span>
<span style="font-size:10.2px;color:#333;letter-spacing:-0.20px;left:520.0px;top:223px;">4 ±1</span>
<span style="font-size:10.2px;color:#333;letter-spacing:-0.10px;left:595.6px;top:223px;">No</span>
<span style="font-size:10.2px;color:#333;left:269.5px;top:245px;transform:scaleX(0.946);">INPD1 (CO/CWU)</span>
<span style="font-size:10.2px;color:#333;left:449.0px;top:245px;">=</span>
<span style="font-size:10.2px;color:#333;letter-spacing:-0.20px;left:526.8px;top:245px;">1</span>
<span style="font-size:10.2px;color:#333;letter-spacing:-0.10px;left:595.6px;top:245px;">No</span>
<span style="font-size:10.2px;color:#333;left:653.0px;top:234px;transform:scaleX(0.997);">AND</span>
<span style="font-size:10.2px;color:#333;left:777.5px;top:234px;transform:scaleX(0.929);transform-origin:0 0;">OUT2 (KOCIOL)</span>
<span style="font-size:10.2px;color:#333;left:863.0px;top:234px;">1</span>
<span style="font-size:10.2px;color:#333;letter-spacing:-0.50px;left:978.3px;top:234px;">30</span>
<span style="font-size:10.2px;color:#222;letter-spacing:0.33px;left:1050.4px;top:236px;">On</span>
<span style="font-size:10.2px;color:#222;letter-spacing:-0.08px;left:1086.2px;top:236px;transform:scaleX(0.920);transform-origin:0 0;">Per</span>
<span style="font-size:13px;color:#333;left:165.0px;top:282px;transform:scaleX(0.975);transform-origin:0 0;">Lista zdarzeń</span>
<span style="font-size:10.2px;font-weight:700;color:#222;letter-spacing:-0.17px;-webkit-text-stroke:0.2px;left:257.2px;top:282px;transform:scaleX(0.920);transform-origin:0 0;">Jeśli</span>
<span style="font-size:7.2px;font-weight:700;color:#fff;left:298.4px;top:280px;">A</span>
<span style="font-size:10.2px;font-weight:700;color:#222;letter-spacing:0.03px;-webkit-text-stroke:0.2px;left:310.2px;top:280px;">Źródło</span>
<span style="font-size:10.2px;color:#444;letter-spacing:-0.20px;left:357.1px;top:282px;transform:scaleX(0.920);transform-origin:0 0;">DIFF1 (DS2-DS1)</span>
<span style="font-size:10.2px;font-weight:700;color:#222;-webkit-text-stroke:0.2px;left:512.2px;top:280px;transform:scaleX(0.991);transform-origin:0 0;">Operator</span>
<span style="font-size:10.2px;color:#444;left:569.2px;top:282px;">≥</span>
<span style="font-size:10.2px;font-weight:700;color:#222;-webkit-text-stroke:0.2px;left:620.4px;top:280px;transform:scaleX(0.991);transform-origin:0 0;">Wartość</span>
<span style="font-size:10.2px;color:#444;left:669.0px;top:282px;">9</span>
<span style="font-size:10.2px;font-weight:700;color:#222;-webkit-text-stroke:0.2px;left:810.3px;top:280px;transform:scaleX(0.944);transform-origin:0 0;">Histereza</span>
<span style="font-size:10.2px;color:#444;left:864.4px;top:282px;">1</span>
<span style="font-size:10.2px;font-weight:700;color:#222;-webkit-text-stroke:0.2px;left:181.7px;top:322px;">#</span>
<span style="font-size:10.2px;font-weight:700;color:#222;letter-spacing:0.01px;-webkit-text-stroke:0.2px;left:295.6px;top:322px;">Źródło</span>
<span style="font-size:10.2px;font-weight:700;color:#222;-webkit-text-stroke:0.2px;left:431.5px;top:322px;transform:scaleX(0.996);">Operator</span>
<span style="font-size:10.2px;font-weight:700;color:#222;-webkit-text-stroke:0.2px;left:510.6px;top:322px;transform:scaleX(0.978);">Wartość</span>
<span style="font-size:10.2px;font-weight:700;color:#222;letter-spacing:0.15px;-webkit-text-stroke:0.2px;left:591.2px;top:322px;">Stan</span>
<span style="font-size:10.2px;font-weight:700;color:#222;-webkit-text-stroke:0.2px;left:642.5px;top:308px;transform:scaleX(0.996);">Operator</span>
<span style="font-size:10.2px;font-weight:700;color:#222;-webkit-text-stroke:0.2px;left:646.7px;top:322px;transform:scaleX(0.980);">między</span>
<span style="font-size:10.2px;font-weight:700;color:#222;-webkit-text-stroke:0.2px;left:638.2px;top:336px;transform:scaleX(0.993);">warunkami</span>
<span style="font-size:10.2px;font-weight:700;color:#222;-webkit-text-stroke:0.2px;left:801.9px;top:322px;transform:scaleX(0.959);">Działanie</span>
<span style="font-size:10.2px;font-weight:700;color:#222;-webkit-text-stroke:0.2px;left:957.0px;top:315px;transform:scaleX(0.985);">Opóźnienie</span>
<span style="font-size:10.2px;font-weight:700;color:#222;-webkit-text-stroke:0.2px;left:957.7px;top:329px;transform:scaleX(0.950);">wyłączenia</span>
<span style="font-size:10.2px;font-weight:700;color:#222;-webkit-text-stroke:0.2px;left:182.1px;top:369px;">1</span>
<span style="font-size:10.2px;color:#333;letter-spacing:-0.21px;left:272.6px;top:358px;transform:scaleX(0.920);">DIFF1 (DS2-DS1)</span>
<span style="font-size:10.2px;color:#333;left:450.2px;top:358px;">≥</span>
<span style="font-size:10.2px;color:#333;letter-spacing:-0.20px;left:521.0px;top:358px;">9 ±1</span>
<span style="font-size:10.2px;color:#333;letter-spacing:-0.10px;left:596.6px;top:358px;">No</span>
<span style="font-size:10.2px;color:#333;left:264.6px;top:380px;transform:scaleX(0.920);">INPA2 (Solar Power)</span>
<span style="font-size:10.2px;color:#333;left:450.2px;top:380px;">≥</span>
<span style="font-size:10.2px;color:#333;letter-spacing:-0.20px;left:518.3px;top:380px;">15 ±1</span>
<span style="font-size:10.2px;color:#333;letter-spacing:-0.10px;left:594.8px;top:380px;">Yes</span>
<span style="font-size:10.2px;color:#333;left:654.0px;top:369px;transform:scaleX(0.997);">AND</span>
<span style="font-size:10.2px;color:#333;letter-spacing:-0.13px;left:781.3px;top:369px;transform:scaleX(0.920);transform-origin:0 0;">OUT0 (SOLAR)</span>
<span style="font-size:10.2px;color:#333;left:861.0px;top:369px;">1</span>
<span style="font-size:10.2px;color:#333;letter-spacing:-0.50px;left:979.3px;top:369px;">30</span>
<span style="font-size:10.2px;color:#222;letter-spacing:0.33px;left:1051.4px;top:371px;">On</span>
<span style="font-size:10.2px;color:#222;letter-spacing:-0.08px;left:1087.2px;top:371px;transform:scaleX(0.920);transform-origin:0 0;">Per</span>
<span style="font-size:10.2px;font-weight:700;color:#222;-webkit-text-stroke:0.2px;left:182.1px;top:413px;">2</span>
<span style="font-size:10.2px;color:#333;left:283.8px;top:402px;transform:scaleX(0.940);">DS3 (kociol)</span>
<span style="font-size:10.2px;color:#333;left:450.2px;top:402px;">≥</span>
<span style="font-size:10.2px;color:#333;letter-spacing:-0.20px;left:518.3px;top:402px;">35 ±0</span>
<span style="font-size:10.2px;color:#333;letter-spacing:-0.10px;left:596.6px;top:402px;">No</span>
<span style="font-size:10.2px;color:#333;left:283.8px;top:424px;transform:scaleX(0.940);">DS3 (kociol)</span>
<span style="font-size:10.2px;color:#333;left:450.0px;top:424px;">&lt;</span>
<span style="font-size:10.2px;color:#333;letter-spacing:-0.20px;left:518.3px;top:424px;">70 ±0</span>
<span style="font-size:10.2px;color:#333;letter-spacing:-0.10px;left:594.8px;top:424px;">Yes</span>
<span style="font-size:10.2px;color:#333;left:654.0px;top:413px;transform:scaleX(0.997);">AND</span>
<span style="font-size:10.2px;color:#333;left:779.0px;top:413px;transform:scaleX(0.983);transform-origin:0 0;">PWM0 (co/cwu)</span>
<span style="font-size:10.2px;color:#333;left:864.3px;top:413px;">1</span>
<span style="font-size:10.2px;color:#333;letter-spacing:-0.50px;left:981.9px;top:413px;">0</span>
<span style="font-size:10.2px;color:#222;letter-spacing:0.33px;left:1051.4px;top:415px;">On</span>
<span style="font-size:10.2px;color:#222;letter-spacing:-0.08px;left:1087.2px;top:415px;transform:scaleX(0.920);transform-origin:0 0;">Per</span>
<span style="font-size:10.2px;font-weight:700;color:#222;-webkit-text-stroke:0.2px;left:182.1px;top:457px;">3</span>
<span style="font-size:10.2px;color:#333;letter-spacing:-0.18px;left:272.4px;top:446px;transform:scaleX(0.920);">DIFF2 (DS3-DS5)</span>
<span style="font-size:10.2px;color:#333;left:450.2px;top:446px;">≥</span>
<span style="font-size:10.2px;color:#333;letter-spacing:-0.20px;left:521.0px;top:446px;">8 ±1</span>
<span style="font-size:10.2px;color:#333;letter-spacing:-0.10px;left:596.6px;top:446px;">No</span>
<span style="font-size:10.2px;color:#333;left:270.5px;top:468px;transform:scaleX(0.946);">INPD1 (CO/CWU)</span>
<span style="font-size:10.2px;color:#333;left:450.0px;top:468px;">=</span>
<span style="font-size:10.2px;color:#333;letter-spacing:-0.20px;left:527.8px;top:468px;">0</span>
<span style="font-size:10.2px;color:#333;letter-spacing:-0.10px;left:594.8px;top:468px;">Yes</span>
<span style="font-size:10.2px;color:#333;left:654.0px;top:457px;transform:scaleX(0.997);">AND</span>
<span style="font-size:10.2px;color:#333;left:778.5px;top:457px;transform:scaleX(0.929);transform-origin:0 0;">OUT2 (KOCIOL)</span>
<span style="font-size:10.2px;color:#333;left:864.0px;top:457px;">1</span>
<span style="font-size:10.2px;color:#333;letter-spacing:-0.50px;left:979.3px;top:457px;">30</span>
<span style="font-size:10.2px;color:#222;letter-spacing:0.33px;left:1051.4px;top:459px;">On</span>
<span style="font-size:10.2px;color:#222;letter-spacing:-0.08px;left:1087.2px;top:459px;transform:scaleX(0.920);transform-origin:0 0;">Per</span>
<span style="font-size:10.2px;font-weight:700;color:#222;-webkit-text-stroke:0.2px;left:182.1px;top:501px;">4</span>
<span style="font-size:10.2px;color:#333;letter-spacing:-0.18px;left:272.4px;top:490px;transform:scaleX(0.920);">DIFF3 (DS3-DS4)</span>
<span style="font-size:10.2px;color:#333;left:450.2px;top:490px;">≥</span>
<span style="font-size:10.2px;color:#333;letter-spacing:-0.20px;left:521.0px;top:490px;">4 ±1</span>
<span style="font-size:10.2px;color:#333;letter-spacing:-0.10px;left:596.6px;top:490px;">No</span>
<span style="font-size:10.2px;color:#333;left:270.5px;top:512px;transform:scaleX(0.946);">INPD1 (CO/CWU)</span>
<span style="font-size:10.2px;color:#333;left:450.0px;top:512px;">=</span>
<span style="font-size:10.2px;color:#333;letter-spacing:-0.20px;left:527.8px;top:512px;">1</span>
<span style="font-size:10.2px;color:#333;letter-spacing:-0.10px;left:596.6px;top:512px;">No</span>
<span style="font-size:10.2px;color:#333;left:654.0px;top:501px;transform:scaleX(0.997);">AND</span>
<span style="font-size:10.2px;color:#333;left:778.5px;top:501px;transform:scaleX(0.929);transform-origin:0 0;">OUT2 (KOCIOL)</span>
<span style="font-size:10.2px;color:#333;left:864.0px;top:501px;">1</span>
<span style="font-size:10.2px;color:#333;letter-spacing:-0.50px;left:979.3px;top:501px;">30</span>
<span style="font-size:10.2px;color:#222;letter-spacing:0.33px;left:1051.4px;top:503px;">On</span>
<span style="font-size:10.2px;color:#222;letter-spacing:-0.08px;left:1087.2px;top:503px;transform:scaleX(0.920);transform-origin:0 0;">Per</span>
</body></html>
